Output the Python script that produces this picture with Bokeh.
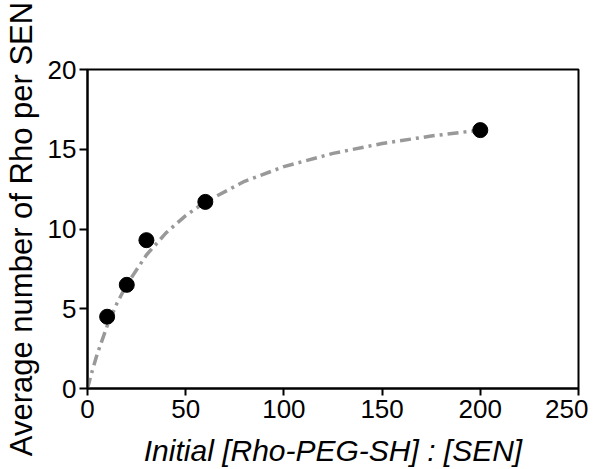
from bokeh.plotting import figure
from bokeh.models import Range1d, FixedTicker
from bokeh.embed import file_html
from bokeh.resources import INLINE

# measured data
ratio = [10, 20, 30, 60, 200]
rho_per_sen = [4.5, 6.5, 9.3, 11.7, 16.2]

# fitted curve
fit_x = [0, 2, 5, 10, 15, 20, 30, 40, 50, 60, 80, 100, 125, 150, 175, 200]
fit_y = [0, 0.93, 2.18, 3.92, 5.34, 6.52, 8.37, 9.76, 10.84, 11.70, 12.99,
         13.91, 14.74, 15.36, 15.83, 16.20]

x_ticks = [0, 50, 100, 150, 200, 250]
y_ticks = [0, 5, 10, 15, 20]

FONT = "Liberation Sans"

p = figure(width=588, height=469, output_backend="svg", toolbar_location=None,
           x_range=Range1d(0, 250), y_range=Range1d(0, 20),
           min_border_left=80, min_border_right=10, min_border_top=69,
           min_border_bottom=77)

p.line(fit_x, fit_y, line_color="#999999", line_width=3.5, line_dash="11 5 3 5")
p.scatter(ratio, rho_per_sen, size=15, fill_color="black", line_color="black")

p.grid.visible = False
p.outline_line_color = "black"
p.outline_line_width = 2
p.outline_line_alpha = 1

for ax in (p.xaxis[0], p.yaxis[0]):
    ax.axis_line_color = "black"
    ax.axis_line_width = 2
    ax.major_tick_line_color = "black"
    ax.major_tick_line_width = 2
    ax.major_tick_out = 8
    ax.major_tick_in = 0
    ax.minor_tick_line_color = None
    ax.major_label_text_font = FONT
    ax.major_label_text_font_size = "26px"
    ax.major_label_text_color = "black"
    ax.axis_label_text_font = FONT
    ax.axis_label_text_font_size = "30px"
    ax.axis_label_text_color = "black"
    ax.major_label_standoff = 3

p.xaxis[0].ticker = FixedTicker(ticks=x_ticks)
p.yaxis[0].ticker = FixedTicker(ticks=y_ticks)
p.xaxis[0].major_tick_out = 7
p.xaxis[0].major_label_standoff = 4
p.xaxis[0].axis_label = "Initial [Rho-PEG-SH] : [SEN]"
p.xaxis[0].axis_label_text_font_style = "italic"
p.xaxis[0].axis_label_standoff = 13
p.yaxis[0].axis_label = "Average number of Rho per SEN"
p.yaxis[0].axis_label_text_font_size = "31px"
p.yaxis[0].axis_label_text_font_style = "normal"
p.yaxis[0].axis_label_standoff = 6

open("out.html", "w").write(file_html(p, INLINE))
